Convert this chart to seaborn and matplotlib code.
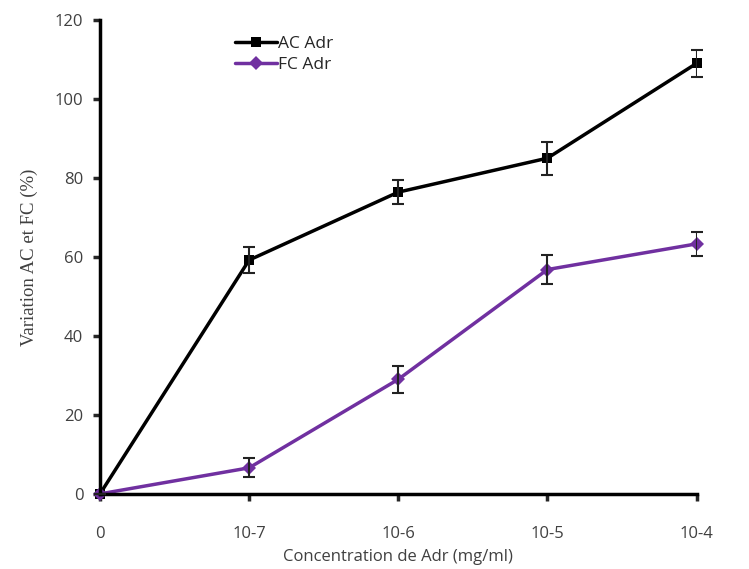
import numpy as np
import pandas as pd
import matplotlib
matplotlib.use("Agg")
import matplotlib.pyplot as plt
import seaborn as sns

# --- Data ---
concentrations = ["0", "10-7", "10-6", "10-5", "10-4"]
ac_adr = [0, 59.2, 76.4, 85.0, 109.0]
ac_err = [0, 3.4, 3.0, 4.2, 3.4]
fc_adr = [0, 6.6, 29.0, 56.8, 63.3]
fc_err = [0, 2.4, 3.4, 3.6, 3.0]

df = pd.DataFrame({
    "pos": list(range(len(concentrations))) * 2,
    "value": ac_adr + fc_adr,
    "err": ac_err + fc_err,
    "series": ["AC Adr"] * 5 + ["FC Adr"] * 5,
})

sns.set_style("ticks")
colors = {"AC Adr": "#000000", "FC Adr": "#7030A0"}
markers = {"AC Adr": "s", "FC Adr": "D"}

fig, ax = plt.subplots(figsize=(7.49, 5.69), dpi=100)
fig.subplots_adjust(left=0.1335, right=0.93, top=0.965, bottom=0.132)

sns.lineplot(data=df, x="pos", y="value", hue="series", style="series",
             palette=colors, markers=markers, dashes=False, linewidth=2.5,
             markersize=7, markeredgewidth=0, ax=ax)

for name, grp in df.groupby("series"):
    ax.errorbar(grp["pos"], grp["value"], yerr=grp["err"], fmt="none",
                ecolor="#222222", elinewidth=1.5, capsize=4, capthick=1.5, zorder=3)

ax.set_xlim(0, 4)
ax.set_ylim(0, 120)
ax.set_yticks(range(0, 121, 20))
ax.set_xticks(range(5))
ax.set_xticklabels(concentrations, family="Open Sans", fontsize=12, color="#404040")
for lbl in ax.get_yticklabels():
    lbl.set_family("Open Sans")
    lbl.set_fontsize(12)
    lbl.set_color("#404040")
ax.tick_params(axis="x", length=5, width=2.5, pad=18)
ax.tick_params(axis="y", length=5, width=2.5, pad=7)

ax.set_xlabel("Concentration de Adr (mg/ml)", family="Open Sans", fontsize=12,
              color="#404040", labelpad=5)
ax.set_ylabel("Variation AC et FC (%)", family="Liberation Serif", fontsize=13.5,
              color="#404040", labelpad=12)

sns.despine(ax=ax)
for side in ["left", "bottom"]:
    ax.spines[side].set_linewidth(2.5)
    ax.spines[side].set_color("black")
for line in ax.get_lines():
    line.set_clip_on(False)

leg = ax.legend(loc="upper left", bbox_to_anchor=(0.2, 1.0), frameon=False,
                prop={"family": "Open Sans", "size": 12.5}, handlelength=2.4,
                handletextpad=0.1, labelspacing=0.3)

plt.savefig("out.png", dpi=100)
